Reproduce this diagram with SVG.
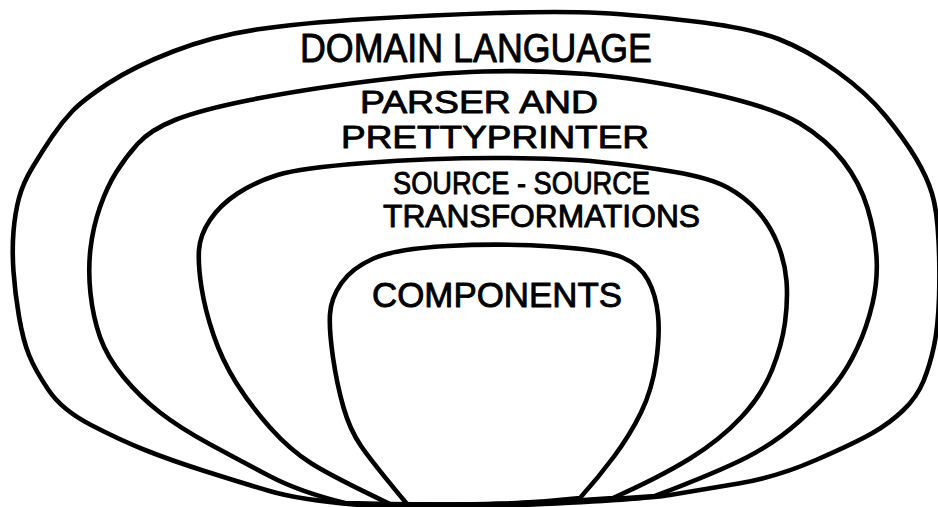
<svg xmlns="http://www.w3.org/2000/svg" width="938" height="507" viewBox="0 0 938 507">
  <style>
    .loop { fill: none; stroke: #000; stroke-width: 4.6; stroke-linejoin: round; stroke-linecap: round; }
    .lbl { font-family: "Liberation Sans", "DejaVu Sans", Arial, sans-serif; fill: #000; stroke: #000; stroke-width: 0.9; stroke-linejoin: round; }
  </style>
  <rect width="938" height="507" fill="#fff"/>

  <!-- outermost layer -->
  <g id="domain-language">
    <path class="loop" d="M360,505 Q300,500 269.5,491 Q239,482 204.5,471 Q170,460 145,450 Q120,440 91,425 Q62,410 48.5,390 Q35,370 29,355 Q23,340 19,316.5 Q15,293 13.5,271.5 Q12,250 13.5,231.5 Q15,213 19,198 Q23,183 33,166.5 Q43,150 52.5,136 Q62,122 72.5,111 Q83,100 108,83.5 Q133,67 173,51.5 Q213,36 256.5,29.5 Q300,23 366.5,19 Q433,15 496.5,13 Q560,11 600,13 Q640,15 695,21.5 Q750,28 778.5,39 Q807,50 837,71.5 Q867,93 886,116.5 Q905,140 916,158.5 Q927,177 932,193.5 Q937,210 938.5,240 Q940,270 939,298.5 Q938,327 934,346 Q930,365 923.5,381 Q917,397 903.5,410 Q890,423 872.5,433 Q855,443 816,460 Q777,477 738.5,483.5 Q700,490 670,495 Q640,500 500,506 Z"/>
    <text class="lbl" x="300" y="62" font-size="40" textLength="352" lengthAdjust="spacingAndGlyphs">DOMAIN LANGUAGE</text>
  </g>

  <!-- parser / prettyprinter layer -->
  <g id="parser-prettyprinter">
    <path class="loop" d="M345,503 Q300,492 269.5,476 Q239,460 209.5,444 Q180,428 160,412.5 Q140,397 123.5,377 Q107,357 100,337 Q93,317 90.5,293.5 Q88,270 90.5,248.5 Q93,227 100,207 Q107,187 116,172.5 Q125,158 137.5,144 Q150,130 175,120 Q200,110 250,100 Q300,90 366.5,81.5 Q433,73 483,71.5 Q533,70 586.5,74 Q640,78 706.5,92.5 Q773,107 800,123.5 Q827,140 843.5,161.5 Q860,183 867.5,208 Q875,233 876.5,256.5 Q878,280 872.5,303.5 Q867,327 857.5,347.5 Q848,368 835.5,384 Q823,400 799,421.5 Q775,443 746.5,457.5 Q718,472 655,496 Q500,508 345,503 Z"/>
    <text class="lbl" x="360" y="113" font-size="32" textLength="238" lengthAdjust="spacingAndGlyphs">PARSER AND</text>
    <text class="lbl" x="341" y="148" font-size="32" textLength="308" lengthAdjust="spacingAndGlyphs">PRETTYPRINTER</text>
  </g>

  <!-- source-to-source transformation layer -->
  <g id="source-transformations">
    <path class="loop" d="M390,504 Q333,477 311.5,463.5 Q290,450 270,427.5 Q250,405 236,382.5 Q222,360 213.5,335 Q205,310 201.5,287.5 Q198,265 199,250 Q200,235 210,220 Q220,205 237.5,193.5 Q255,182 277.5,175 Q300,168 365,163 Q430,158 495,158 Q560,158 600,162 Q640,166 675,172 Q710,178 727.5,187.5 Q745,197 757.5,211 Q770,225 777.5,243.5 Q785,262 786.5,281 Q788,300 785,322.5 Q782,345 772,370 Q762,395 741,417.5 Q720,440 690,458.5 Q660,477 613,498 Q500,507 390,504 Z"/>
    <text class="lbl" x="393" y="194" font-size="31" textLength="257" lengthAdjust="spacingAndGlyphs">SOURCE - SOURCE</text>
    <text class="lbl" x="383" y="227" font-size="32" textLength="317" lengthAdjust="spacingAndGlyphs">TRANSFORMATIONS</text>
  </g>

  <!-- innermost layer -->
  <g id="components">
    <path class="loop" d="M407,504 Q372,462 361,446 Q350,430 343.5,407.5 Q337,385 333,357.5 Q329,330 330,314 Q331,298 341.5,283 Q352,268 373.5,258.5 Q395,249 447.5,246 Q500,243 552.5,246.5 Q605,250 622.5,257.5 Q640,265 648,280 Q656,295 658,315 Q660,335 656,362.5 Q652,390 641,412.5 Q630,435 614,456.5 Q598,478 580,498 Q500,507 407,504 Z"/>
    <text class="lbl" x="372" y="307" font-size="35" textLength="250" lengthAdjust="spacingAndGlyphs">COMPONENTS</text>
  </g>
</svg>
